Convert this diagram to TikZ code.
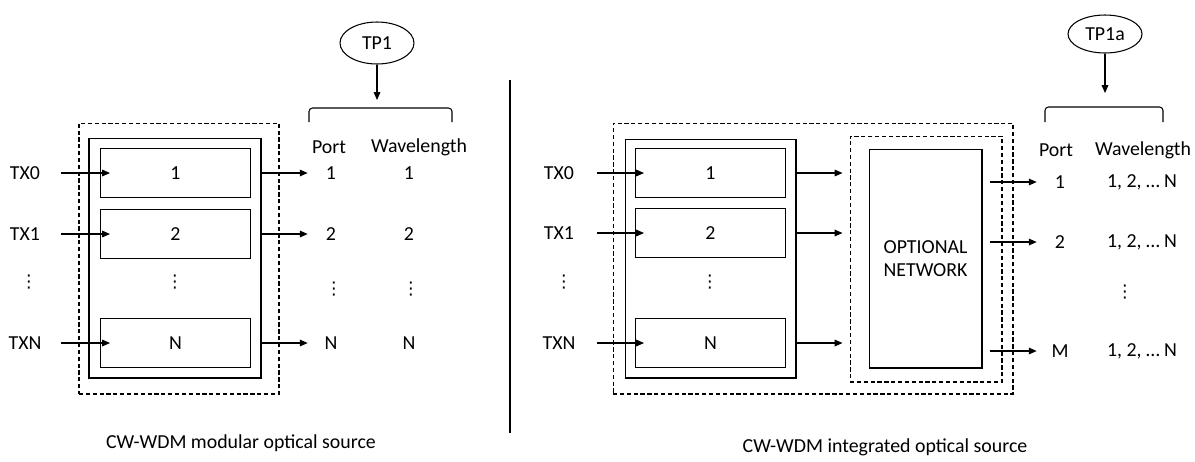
\documentclass[tikz,border=0pt]{standalone}
\usepackage{fontspec}
\setmainfont{Carlito}
\newfontfamily\djv{DejaVu Sans}
\usetikzlibrary{arrows.meta,positioning,calc,shapes.geometric}
\newcommand{\fpont}{{\djv\fontsize{10}{10}\selectfont ⋮}}
\tikzset{
  tp/.style={ellipse,draw,line width=.6pt,inner sep=1pt,minimum width=1.48cm},
  modul/.style={draw,line width=.6pt,minimum width=3cm,minimum height=.98cm},
  keret/.style={draw,line width=.6pt},
  szagg/.style={draw,line width=.6pt,dash pattern=on 2.4pt off 1.5pt},
  nyl/.style={line width=.6pt,-{Triangle[length=4.5pt,width=3.8pt]}},
  zar/.style={line width=.6pt,rounded corners=2pt},
  tx/.style={minimum width=1.44cm,inner sep=0pt},
  port/.style={minimum width=.92cm,inner sep=0pt},
}

\begin{document}
\begin{tikzpicture}[x=0.02cm,y=-0.02cm,font=\fontsize{11.3}{13.5}\selectfont]
  \useasboundingbox (0,0) rectangle (1195,461);
  % modular source
  \node[tp,minimum height=.84cm] (tp1) at (377,43) {TP1};
  \coordinate (z1) at (377,100);
  \draw[nyl] (tp1) -- (z1);
  \draw[zar] (309,122) -- (309,108) -- (452,108) -- (452,122);
  \node[szagg,minimum width=4cm,minimum height=5.42cm] (k1) at (179,258.5) {};
  \node[keret,minimum width=3.44cm,minimum height=4.8cm] (b1) at (175,258) {};
  \node (ph1) at (329,147) {Port};
  \node (wh1) at (419,147) {Wavelength};
  \foreach \y/\t/\m [count=\i] in {173/TX0/1,234/TX1/2,343/TXN/N}{
    \node[modul] (m1\i) at (175.5,\y) {\m};
    \node[tx] (t1\i) at (25,\y) {\t};
    \node[port] (p1\i) at (331,\y) {\m};
    \node (w1\i) at (409,\y) {\m};
    \draw[nyl] (t1\i) -- ($(m1\i.west)+(10,0)$);
    \draw[nyl] (m1\i.east -| b1.east) -- (p1\i);
  }
  \node (d11) at (29,282) {\fpont};
  \node (d12) at (175,282) {\fpont};
  \node (d13) at (334,289) {\fpont};
  \node (d14) at (411,289) {\fpont};
  \node (c1) at (241,443) {CW-WDM modular optical source};
  \draw[line width=.6pt] (510,80) -- (510,433);
  % integrated source
  \node[tp,minimum height=.76cm] (tp2) at (1105,34) {TP1a};
  \coordinate (z2) at (1105,93);
  \draw[nyl] (tp2) -- (z2);
  \draw[zar] (1045,122) -- (1045,107) -- (1163,107) -- (1163,122);
  \node[szagg,minimum width=8cm,minimum height=5.42cm] (k2) at (813,258.5) {};
  \node[keret,minimum width=3.42cm,minimum height=4.78cm] (b2) at (710.5,258.5) {};
  \node[szagg,minimum width=3.04cm,minimum height=4.92cm] (ok) at (926,259) {};
  \node[keret,minimum width=2.26cm,minimum height=4.38cm,align=center] (on) at (925.5,258.5) {OPTIONAL\\NETWORK};
  \node (ph2) at (1056,150) {Port};
  \node (wh2) at (1143,150) {Wavelength};
  \foreach \y/\t/\m [count=\i] in {173/TX0/1,233/TX1/2,343/TXN/N}{
    \node[modul] (m2\i) at (710.5,\y) {\m};
    \node[tx,minimum width=1.52cm] (t2\i) at (559,\y) {\t};
    \draw[nyl] (t2\i) -- ($(m2\i.west)+(9,0)$);
    \draw[nyl,shorten >=4pt] (m2\i.east -| b2.east) -- (m2\i.east -| ok.west);
  }
  \foreach \y/\p [count=\i] in {182/1,242/2,351/M}{
    \node[port] (p2\i) at (1060,\y) {\p};
    \node (w2\i) at (1142,\y) {1, 2, … N};
    \draw[nyl,shorten <=4pt] (on.east |- p2\i) -- (p2\i);
  }
  \node (d21) at (564,282) {\fpont};
  \node (d22) at (710,282) {\fpont};
  \node (d23) at (1125,292) {\fpont};
  \node (c2) at (885,447) {CW-WDM integrated optical source};
\end{tikzpicture}
\end{document}
